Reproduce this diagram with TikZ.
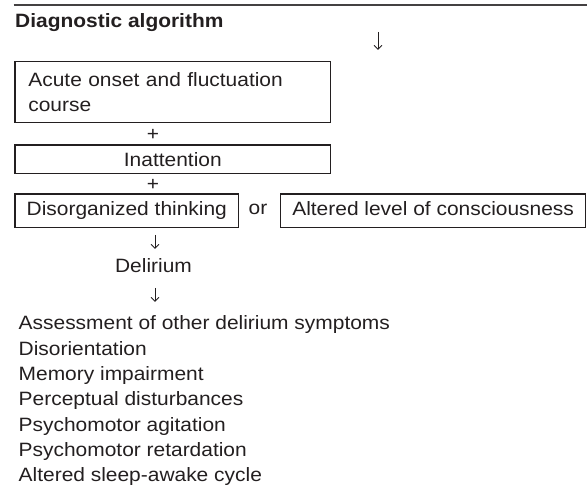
\documentclass[tikz,border=0pt]{standalone}
\usepackage{fontspec}
\setmainfont[FakeStretch=1.085]{Liberation Sans}
\usetikzlibrary{positioning,arrows.meta}
\definecolor{ink}{HTML}{231F20}
\tikzset{
  txt/.style={inner sep=0pt,text=ink},
  box/.style={draw=ink,line width=1.3pt,inner sep=0pt,text=ink},
  arr/.style={draw=ink,line width=0.9pt,-{Straight Barb[length=4pt,width=8pt]}},
}

\begin{document}
\begin{tikzpicture}[x=1pt,y=-1pt,font=\fontsize{19.3}{25.3}\selectfont]
\useasboundingbox (0,0) rectangle (587,494);

\draw[line width=2pt,ink!85] (13.5,5) -- (587,5);
\node[txt,anchor=base west] (title) at (15,27.3) {\bfseries Diagnostic algorithm};
\coordinate (a0) at (378,32);
\coordinate (b0) at (378,50);
\draw[arr] (a0) -- (b0);

% the three criteria
\node[box,anchor=north west,minimum height=61pt,text width=288.9pt,
  inner xsep=13.4pt,align=left] (onset) at (14.3,60.7)
  {Acute onset and fluctuation\\course};
\node[txt] (plus1) at (153,135) {+};
\node[box,anchor=north west,minimum width=315.7pt,minimum height=28.4pt,
  text depth=0pt] (inatt) at (14.3,144.3) {Inattention};
\node[txt] (plus2) at (153,185) {+};
\node[box,anchor=north west,minimum width=223.7pt,minimum height=33.4pt,
  text height=14.1pt,text depth=4pt] (disorg) at (14.3,193.3) {Disorganized thinking};
\node[txt,anchor=base] (or) at (258,215) {or};
\node[box,anchor=north west,minimum width=305pt,minimum height=33.4pt,
  text height=14.1pt,text depth=4pt] (altered) at (280,193.3) {Altered level of consciousness};

\coordinate (a1) at (155,235);
\coordinate (b1) at (155,249);
\draw[arr] (a1) -- (b1);
\node[txt,anchor=base] (delirium) at (153.5,273) {Delirium};
\coordinate (a2) at (155,288);
\coordinate (b2) at (155,302);
\draw[arr] (a2) -- (b2);

% other symptoms
\foreach \sym [count=\i from 0] in {Assessment of other delirium symptoms,
  Disorientation,Memory impairment,Perceptual disturbances,
  Psychomotor agitation,Psychomotor retardation,Altered sleep-awake cycle}
  \node[txt,anchor=base west] (sym\i) at (18.5,330+25.3*\i) {\sym};
\end{tikzpicture}
\end{document}
